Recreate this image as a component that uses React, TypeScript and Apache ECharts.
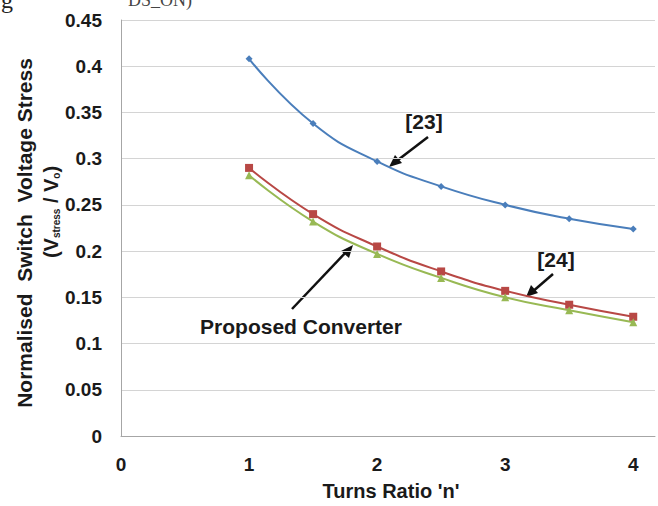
import React, { useEffect, useRef } from "react";
import * as echarts from "echarts";

const turnsRatio = [1, 1.5, 2, 2.5, 3, 3.5, 4];
const ref23 = [0.408, 0.338, 0.297, 0.27, 0.25, 0.235, 0.224];
const ref24 = [0.29, 0.24, 0.205, 0.178, 0.157, 0.142, 0.129];
const proposed = [0.282, 0.232, 0.197, 0.171, 0.15, 0.136, 0.123];
const xTicks = [0, 1, 2, 3, 4];

const FONT = "'Liberation Sans', Arial, sans-serif";
const SERIF = "'Liberation Serif', 'DejaVu Serif', serif";

export default function App() {
  const ref = useRef<HTMLDivElement>(null);
  useEffect(() => {
    document.body.style.margin = "0";
    const chart = echarts.init(ref.current!, null, { renderer: "svg" });
    const pairs = (ys: number[]) => turnsRatio.map((x, i) => [x, ys[i]]);
    chart.setOption({
      animation: false,
      backgroundColor: "#ffffff",
      grid: { left: 121, top: 20, right: 0, bottom: 70 },
      xAxis: {
        type: "value",
        min: 0,
        max: 4.17,
        interval: 1,
        axisLine: { show: true, lineStyle: { color: "#a6a6a6", width: 1 } },
        axisTick: { show: false },
        splitLine: { show: false },
        axisLabel: {
          margin: 19,
          color: "#1a1a1a",
          fontFamily: FONT,
          fontWeight: "bold",
          fontSize: 19,
          formatter: (v: number) => (xTicks.includes(v) ? String(v) : ""),
        },
      },
      yAxis: {
        type: "value",
        min: 0,
        max: 0.45,
        interval: 0.05,
        axisLine: { show: true, lineStyle: { color: "#a6a6a6", width: 1 } },
        axisTick: { show: false },
        splitLine: { show: true, lineStyle: { color: "#d4d4d4", width: 1 } },
        axisLabel: {
          margin: 19,
          color: "#1a1a1a",
          fontFamily: FONT,
          fontWeight: "bold",
          fontSize: 19,
          formatter: (v: number) => String(Math.round(v * 100) / 100),
        },
      },
      series: [
        {
          name: "[23]",
          type: "line",
          smooth: true,
          data: pairs(ref23),
          symbol: "diamond",
          symbolSize: 7,
          lineStyle: { color: "#4a7ebb", width: 2 },
          itemStyle: { color: "#4a7ebb" },
        },
        {
          name: "[24]",
          type: "line",
          smooth: true,
          data: pairs(ref24),
          symbol: "rect",
          symbolSize: 8,
          lineStyle: { color: "#b84845", width: 2 },
          itemStyle: { color: "#b84845" },
        },
        {
          name: "Proposed Converter",
          type: "line",
          smooth: true,
          data: pairs(proposed),
          symbol: "triangle",
          symbolSize: 8,
          lineStyle: { color: "#98b954", width: 2 },
          itemStyle: { color: "#98b954" },
        },
      ],
      graphic: [
        {
          type: "text",
          x: 1,
          y: 12,
          style: {
            text: "g",
            font: `24px ${SERIF}`,
            fill: "#222",
            align: "left",
            verticalAlign: "bottom",
          },
        },
        {
          type: "text",
          x: 128,
          y: 9,
          style: {
            text: "DS_ON)",
            font: `18px ${SERIF}`,
            fill: "#444",
            align: "left",
            verticalAlign: "bottom",
          },
        },
        {
          type: "text",
          x: 24,
          y: 233,
          rotation: Math.PI / 2,
          style: {
            text: "Normalised  Switch  Voltage Stress",
            font: `bold 21px ${FONT}`,
            fill: "#1a1a1a",
            align: "center",
            verticalAlign: "middle",
          },
        },
        {
          type: "text",
          x: 51,
          y: 212,
          rotation: Math.PI / 2,
          style: {
            text: "(V{sub|stress} / V{sub|o})",
            font: `bold 20px ${FONT}`,
            fill: "#1a1a1a",
            align: "center",
            verticalAlign: "middle",
            rich: {
              sub: {
                font: `bold 10px ${FONT}`,
                fill: "#1a1a1a",
                verticalAlign: "bottom",
                padding: [8, 0, 0, 0],
              },
            },
          },
        },
        {
          type: "text",
          x: 391,
          y: 491,
          style: {
            text: "Turns Ratio 'n'",
            font: `bold 20px ${FONT}`,
            fill: "#1a1a1a",
            align: "center",
            verticalAlign: "middle",
          },
        },
        {
          type: "text",
          x: 424,
          y: 121,
          style: {
            text: "[23]",
            font: `bold 21px ${FONT}`,
            fill: "#1a1a1a",
            align: "center",
            verticalAlign: "middle",
          },
        },
        {
          type: "line",
          shape: { x1: 428, y1: 137, x2: 394, y2: 163 },
          style: { stroke: "#111", lineWidth: 2.5 },
        },
        {
          type: "polygon",
          shape: { points: [[389, 167], [395, 155], [402, 163]] },
          style: { fill: "#111" },
        },
        {
          type: "text",
          x: 556,
          y: 259,
          style: {
            text: "[24]",
            font: `bold 21px ${FONT}`,
            fill: "#1a1a1a",
            align: "center",
            verticalAlign: "middle",
          },
        },
        {
          type: "line",
          shape: { x1: 553, y1: 274, x2: 531, y2: 293 },
          style: { stroke: "#111", lineWidth: 2.5 },
        },
        {
          type: "polygon",
          shape: { points: [[526, 297], [531, 285], [538, 293]] },
          style: { fill: "#111" },
        },
        {
          type: "text",
          x: 301,
          y: 326,
          style: {
            text: "Proposed Converter",
            font: `bold 21px ${FONT}`,
            fill: "#1a1a1a",
            align: "center",
            verticalAlign: "middle",
          },
        },
        {
          type: "line",
          shape: { x1: 292, y1: 309, x2: 348, y2: 250 },
          style: { stroke: "#111", lineWidth: 2.5 },
        },
        {
          type: "polygon",
          shape: { points: [[353, 245], [349, 258], [341, 251]] },
          style: { fill: "#111" },
        },
      ],
    });
    return () => chart.dispose();
  }, []);
  return <div ref={ref} style={{ width: 658, height: 506 }} />;
}
